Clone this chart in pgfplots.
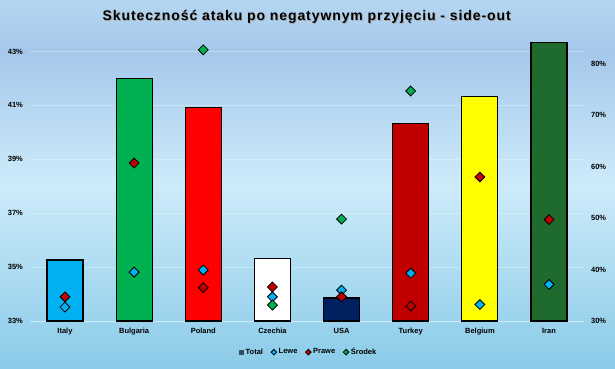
\documentclass[border=0pt]{standalone}
\usepackage{fontspec}
\setmainfont{Liberation Sans}
\usepackage{pgfplots}
\pgfplotsset{compat=1.18}
\definecolor{bgbot}{RGB}{138,203,232}
\definecolor{bgmid}{RGB}{205,235,250}
\definecolor{bgup}{RGB}{165,200,235}
\definecolor{bgtop}{RGB}{180,214,240}
\pgfdeclareverticalshading{bgshade}{100bp}{color(0bp)=(bgbot); color(25bp)=(bgbot); color(50bp)=(bgmid); color(68bp)=(bgup); color(75bp)=(bgtop); color(100bp)=(bgtop)}
\definecolor{italy}{HTML}{00B0F0}
\definecolor{bulgaria}{HTML}{00B050}
\definecolor{poland}{HTML}{FF0000}
\definecolor{czechia}{HTML}{FFFFFF}
\definecolor{usa}{HTML}{002060}
\definecolor{turkey}{HTML}{C00000}
\definecolor{belgium}{HTML}{FFFF00}
\definecolor{iran}{HTML}{1E6B2D}
\definecolor{lewe}{HTML}{00B0F0}
\definecolor{prawe}{HTML}{C00000}
\definecolor{srodek}{HTML}{00B050}
\definecolor{totalc}{HTML}{1F4E79}
\begin{document}
\begin{tikzpicture}[x=1pt,y=1pt]
\shade[shading=bgshade] (0,0) rectangle (615,368);
\node[font=\bfseries\fontsize{14}{16}\selectfont\addfontfeatures{LetterSpace=6.5}, text=black!35] at (307.6,350.2) {Skuteczność ataku po negatywnym przyjęciu - side-out};
\node[font=\bfseries\fontsize{14}{16}\selectfont\addfontfeatures{LetterSpace=6.5}] at (306.7,351) {Skuteczność ataku po negatywnym przyjęciu - side-out};
\begin{axis}[at={(30.4pt,47pt)}, anchor=south west, scale only axis, width=553.2pt, height=283pt,
 xmin=-0.5, xmax=7.5, ymin=33, ymax=43.5,
 ybar, bar width=36pt, bar shift=0pt,
 xtick={0,...,7}, xticklabels={Italy,Bulgaria,Poland,Czechia,USA,Turkey,Belgium,Iran},
 ytick={33,35,...,43},
 yticklabel={\pgfmathprintnumber{\tick}\%},
 axis x line*=bottom, axis y line*=left,
 x axis line style={draw=white!80!cyan, line width=1pt, -},
 y axis line style={draw=none},
 major tick length=0pt,
 ymajorgrids, grid style={white, opacity=0.3, line width=0.6pt},
 ticklabel style={font=\bfseries\fontsize{7.5}{8}\selectfont},
 xticklabel style={yshift=-4pt},
 yticklabel style={xshift=-4pt},
 /pgf/number format/assume math mode=true,
 every axis plot/.append style={draw=black, line width=1.2pt},
]
\addplot[fill=italy] coordinates {(0,35.26)};
\addplot[fill=bulgaria] coordinates {(1,42.0)};
\addplot[fill=poland] coordinates {(2,40.93)};
\addplot[fill=czechia] coordinates {(3,35.32)};
\addplot[fill=usa] coordinates {(4,33.85)};
\addplot[fill=turkey] coordinates {(5,40.33)};
\addplot[fill=belgium] coordinates {(6,41.33)};
\addplot[fill=iran] coordinates {(7,43.33)};
\end{axis}
\begin{axis}[at={(30.4pt,47pt)}, anchor=south west, scale only axis, width=553.2pt, height=283pt,
 xmin=-0.5, xmax=7.5, ymin=30, ymax=85,
 ytick={30,40,...,80},
 yticklabel={\pgfmathprintnumber{\tick}\%},
 axis y line*=right, axis x line=none, xtick=\empty,
 y axis line style={draw=none},
 major tick length=0pt,
 ticklabel style={font=\bfseries\fontsize{7.5}{8}\selectfont},
 yticklabel style={xshift=4pt},
 /pgf/number format/assume math mode=true,
 legend style={at={(0.5036,-0.11)}, anchor=center, draw=none, fill=none, legend columns=-1,
   font=\bfseries\fontsize{7.5}{8}\selectfont,
   /tikz/every even column/.append style={column sep=6pt},
   legend cell align=left, inner sep=1pt},
 legend image post style={mark size=2pt},
]
\addlegendimage{only marks, mark=square*, mark options={fill=totalc, draw=black!70, line width=0.5pt}}
\addlegendentry{Total}
\addplot[only marks, mark=square*, mark size=3.5pt, mark options={rotate=45, fill=lewe, draw=black, line width=0.8pt}] coordinates {(0,32.7)(1,39.5)(2,39.9)(3,34.7)(4,36.0)(5,39.3)(6,33.2)(7,37.1)};
\addlegendentry{Lewe}
\addplot[only marks, mark=square*, mark size=3.5pt, mark options={rotate=45, fill=prawe, draw=black, line width=0.8pt}] coordinates {(0,34.7)(1,60.7)(2,36.5)(3,36.6)(4,34.7)(5,32.9)(6,58.0)(7,49.7)};
\addlegendentry{Prawe}
\addplot[only marks, mark=square*, mark size=3.5pt, mark options={rotate=45, fill=srodek, draw=black, line width=0.8pt}] coordinates {(2,82.7)(3,33.1)(4,49.8)(5,74.7)};
\addlegendentry{Środek}
\end{axis}
\pgfresetboundingbox
\useasboundingbox (0,0) rectangle (615,368);
\end{tikzpicture}
\end{document}
